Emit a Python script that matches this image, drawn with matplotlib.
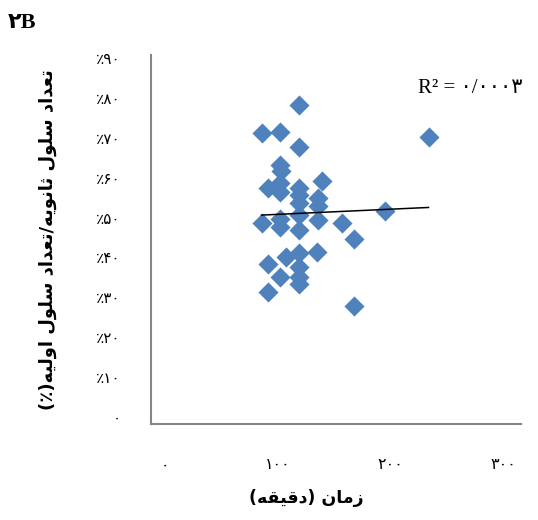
import matplotlib
matplotlib.use("Agg")
import matplotlib.pyplot as plt
import numpy as np

# time (minutes) vs. ratio of secondary / primary cell count
time_min = [119, 86, 102, 119, 102, 103, 140, 92, 102, 102,
            119, 119, 119, 136, 136, 86, 102, 102, 119, 119,
            136, 157, 195, 168, 92, 108, 119, 135, 102, 119,
            119, 119, 92, 168, 234]
ratio = [0.782, 0.712, 0.714, 0.677, 0.632, 0.617, 0.591, 0.574, 0.586, 0.564,
         0.574, 0.556, 0.536, 0.549, 0.529, 0.486, 0.496, 0.476, 0.506, 0.469,
         0.494, 0.486, 0.516, 0.446, 0.383, 0.401, 0.411, 0.414, 0.351, 0.376,
         0.351, 0.333, 0.313, 0.278, 0.702]

x_ticks = [0, 100, 200, 300]
x_tick_labels = ["۰", "۱۰۰", "۲۰۰", "۳۰۰"]
y_ticks = [0, 0.1, 0.2, 0.3, 0.4, 0.5, 0.6, 0.7, 0.8, 0.9]
y_tick_labels = ["۰", "٪۱۰", "٪۲۰", "٪۳۰", "٪۴۰", "٪۵۰", "٪۶۰", "٪۷۰", "٪۸۰", "٪۹۰"]

panel_label = "۲B"
r2_label = "R² = ۰/۰۰۰۳"
x_title = "زمان (دقیقه)"
y_title = "تعداد سلول ثانویه/تعداد سلول اولیه(٪)"

# contextual forms (isolated, final, initial, medial); None = does not join forward
FORMS = {
    "ا": ("\uFE8D", "\uFE8E", None, None),
    "ت": ("\uFE95", "\uFE96", "\uFE97", "\uFE98"),
    "ث": ("\uFE99", "\uFE9A", "\uFE9B", "\uFE9C"),
    "د": ("\uFEA9", "\uFEAA", None, None),
    "ر": ("\uFEAD", "\uFEAE", None, None),
    "ز": ("\uFEAF", "\uFEB0", None, None),
    "س": ("\uFEB1", "\uFEB2", "\uFEB3", "\uFEB4"),
    "ع": ("\uFEC9", "\uFECA", "\uFECB", "\uFECC"),
    "ق": ("\uFED5", "\uFED6", "\uFED7", "\uFED8"),
    "ل": ("\uFEDD", "\uFEDE", "\uFEDF", "\uFEE0"),
    "م": ("\uFEE1", "\uFEE2", "\uFEE3", "\uFEE4"),
    "ن": ("\uFEE5", "\uFEE6", "\uFEE7", "\uFEE8"),
    "ه": ("\uFEE9", "\uFEEA", "\uFEEB", "\uFEEC"),
    "و": ("\uFEED", "\uFEEE", None, None),
    "ی": ("\uFBFC", "\uFBFD", "\uFBFE", "\uFBFF"),
}
MIRROR = {"(": ")", ")": "("}


def persian(text):
    # shape letters and return them in visual (left-to-right) order
    out = []
    for i, ch in enumerate(text):
        if ch not in FORMS:
            out.append(MIRROR.get(ch, ch))
            continue
        prev = text[i - 1] if i > 0 else ""
        nxt = text[i + 1] if i + 1 < len(text) else ""
        iso, fin, ini, med = FORMS[ch]
        after = prev in FORMS and FORMS[prev][2] is not None
        before = nxt in FORMS and ini is not None
        if after and before:
            out.append(med)
        elif after:
            out.append(fin)
        elif before:
            out.append(ini)
        else:
            out.append(iso)
    return "".join(reversed(out))


fig = plt.figure(figsize=(5.38, 5.2), dpi=100)
ax = fig.add_axes([151 / 538, 1 - 424 / 520, 370 / 538, 369 / 520])

ax.scatter(time_min, ratio, marker="D", s=105, color="#4F81BD", linewidths=0, zorder=2)

slope, intercept = np.polyfit(time_min, ratio, 1)
xs = np.array([min(time_min), max(time_min)])
ax.plot(xs, slope * xs + intercept, color="black", linewidth=1.1, zorder=3)

ax.set_xlim(-12, 316)
ax.set_ylim(-0.0175, 0.9075)
ax.set_xticks(x_ticks)
ax.set_xticklabels(x_tick_labels, fontsize=11.5, family="DejaVu Sans")
ax.set_yticks(y_ticks)
ax.set_yticklabels(y_tick_labels, fontsize=11, family="DejaVu Sans")
ax.tick_params(axis="x", length=0, pad=24)
ax.tick_params(axis="y", length=0, pad=22)

for side in ("top", "right"):
    ax.spines[side].set_visible(False)
for side in ("left", "bottom"):
    ax.spines[side].set_color("#868686")
    ax.spines[side].set_linewidth(1.5)

fig.text(8 / 538, 1 - 28 / 520, panel_label, fontsize=16, fontweight="bold",
         family=["Liberation Serif", "DejaVu Sans"], ha="left", va="baseline")
fig.text(418 / 538, 1 - 93 / 520, r2_label, fontsize=15,
         family=["Liberation Serif", "DejaVu Sans"], ha="left", va="baseline")
fig.text(306 / 538, 1 - 498 / 520, persian(x_title), fontsize=12.5, fontweight="bold",
         family="DejaVu Sans", ha="center", va="center")
fig.text(48 / 538, 1 - 240 / 520, persian(y_title), fontsize=13, fontweight="bold",
         family="DejaVu Sans", ha="center", va="center", rotation=90)

fig.savefig("out.png", dpi=100)
